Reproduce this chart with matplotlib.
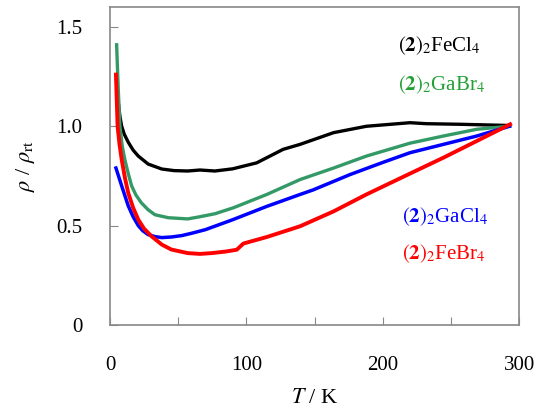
import matplotlib
matplotlib.use("Agg")
import matplotlib.pyplot as plt
import numpy as np

plt.rcParams['font.family'] = ['Liberation Serif', 'DejaVu Serif']
plt.rcParams['mathtext.fontset'] = 'stix'

# values (T in K, rho / rho_rt)
t_fecl4 = [4.9, 6.1, 7.3, 8.6, 10.5, 13.4, 17, 20.8, 28, 38, 47, 57, 66, 77, 90, 107.6, 127, 139.4, 164, 188, 220, 232, 257, 293]
r_fecl4 = [1.23, 1.12, 1.05, 1.0, 0.96, 0.92, 0.88, 0.85, 0.81, 0.785, 0.777, 0.775, 0.78, 0.775, 0.786, 0.816, 0.884, 0.909, 0.968, 1.0, 1.018, 1.013, 1.01, 1.004]

t_gabr4 = [4.9, 6.0, 7.3, 9, 11, 13.5, 15.9, 19, 23, 28, 33, 42.8, 57, 66, 77, 90.5, 115, 139.4, 164, 188, 220, 244.5, 269, 293]
r_gabr4 = [1.41, 1.2, 1.0, 0.9, 0.83, 0.76, 0.70, 0.655, 0.615, 0.58, 0.555, 0.54, 0.534, 0.545, 0.56, 0.59, 0.657, 0.732, 0.79, 0.85, 0.915, 0.951, 0.985, 1.0]

t_gacl4 = [4.4, 6.5, 8.6, 11, 13.4, 17, 20.8, 24, 28, 33, 38, 45, 52.6, 60, 70, 90, 115, 139.4, 149, 176, 200, 220, 244.5, 269, 293]
r_gacl4 = [0.79, 0.745, 0.70, 0.65, 0.60, 0.545, 0.50, 0.475, 0.455, 0.445, 0.44, 0.443, 0.45, 0.462, 0.48, 0.53, 0.597, 0.657, 0.68, 0.757, 0.818, 0.867, 0.909, 0.951, 1.0]

t_febr4 = [4.4, 5.0, 5.6, 7, 8.6, 11, 13.4, 17, 20.8, 25, 30.6, 38, 45, 57, 66, 74.6, 85, 93, 97.8, 115, 139.4, 164, 188, 220, 244.5, 269, 293.4]
r_febr4 = [1.26, 1.13, 1.0, 0.91, 0.833, 0.74, 0.665, 0.59, 0.53, 0.485, 0.446, 0.405, 0.38, 0.362, 0.358, 0.362, 0.37, 0.379, 0.41, 0.443, 0.497, 0.572, 0.657, 0.762, 0.842, 0.926, 1.01]

fig = plt.figure(figsize=(5.47, 4.12), dpi=100)
ax = fig.add_axes([0.201, 0.211, 0.748, 0.772])

ax.plot(t_fecl4, r_fecl4, color='black', lw=2.4)
ax.plot(t_gabr4, r_gabr4, color='#339966', lw=2.4)
ax.plot(t_gacl4, r_gacl4, color='#0000ff', lw=2.5)
ax.plot(t_febr4, r_febr4, color='#ff0000', lw=2.8)

ax.set_xlim(0, 300)
ax.set_ylim(0, 1.6)
ax.set_xticks(np.arange(0, 301, 50))
ax.set_xticklabels(['0', '', '100', '', '200', '', '300'])
ax.set_yticks([0, 0.5, 1.0, 1.5])
ax.set_yticklabels(['0', '0.5', '1.0', '1.5'])
ax.tick_params(direction='in', length=6, color='#888888', labelsize=15)
ax.tick_params(axis='x', pad=22)
ax.tick_params(axis='y', pad=20)
for s in ax.spines.values():
    s.set_color('#888888')
    s.set_linewidth(1.2)

ax.set_xlabel(r'$T$ / K', fontsize=16, labelpad=10)
ax.set_ylabel(r'$\rho$ / $\rho_{\mathrm{rt}}$', fontsize=16, labelpad=14)

ax.text(211, 1.38, r'$(\mathbf{2})_2$FeCl$_4$', color='black', fontsize=15)
ax.text(211, 1.18, r'$(\mathbf{2})_2$GaBr$_4$', color='#22a033', fontsize=15)
ax.text(214, 0.52, r'$(\mathbf{2})_2$GaCl$_4$', color='#0000ff', fontsize=15)
ax.text(214, 0.33, r'$(\mathbf{2})_2$FeBr$_4$', color='#ff0000', fontsize=15)

fig.savefig('out.png', dpi=100)
